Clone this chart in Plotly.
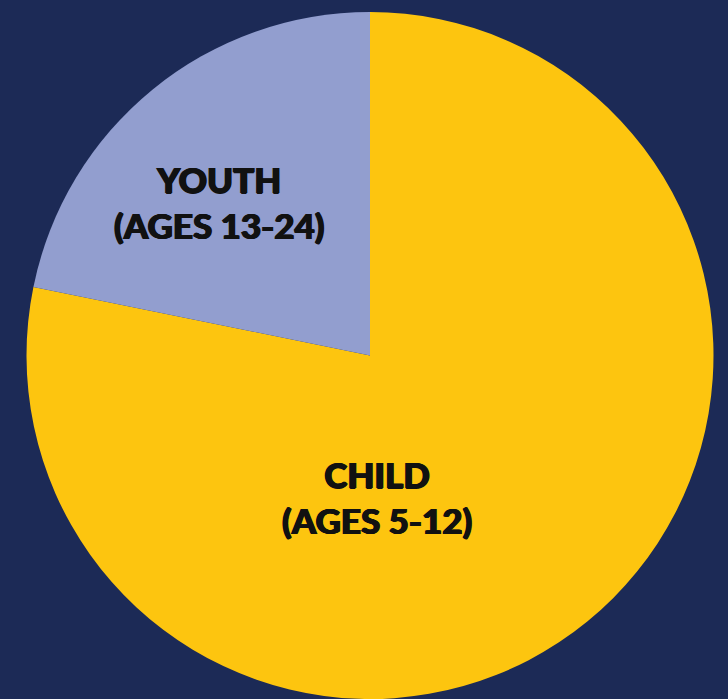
import plotly.graph_objects as go

labels = ["CHILD<br>(AGES 5-12)", "YOUTH<br>(AGES 13-24)"]
values = [78.2, 21.8]
colors = ["#fdc50f", "#929ecf"]
label_pos = [(377, 497), (219, 202)]  # pixel centres of label blocks

W, H = 728, 699
BG = "#1c2a56"

fig = go.Figure(go.Pie(
    labels=labels,
    values=values,
    marker=dict(colors=colors, line=dict(width=0)),
    sort=False,
    direction="clockwise",
    rotation=0,
    textinfo="none",
    hoverinfo="label+percent",
    showlegend=False,
    domain=dict(x=[25 / W, 715 / W], y=[0, 1 - 12 / H]),
))

for lab, (px, py) in zip(labels, label_pos):
    fig.add_annotation(
        text=lab, x=px / W, y=1 - py / H, xref="paper", yref="paper",
        showarrow=False, xanchor="center", yanchor="middle", align="center",
        font=dict(family="Lato Black, Lato Heavy, Lato", size=35, weight=900,
                  color="#111111",
                  shadow="0.8px 0 0 #111111, -0.8px 0 0 #111111, 0 0.6px 0 #111111"),
    )

fig.update_layout(
    width=W, height=H,
    margin=dict(l=0, r=0, t=0, b=0),
    paper_bgcolor=BG, plot_bgcolor=BG,
)

fig.write_html(
    "out.html",
    config={"displayModeBar": False},
    post_script="document.body.style.margin='0';"
                "document.body.style.background='" + BG + "';"
                "document.body.style.overflow='hidden';",
)
